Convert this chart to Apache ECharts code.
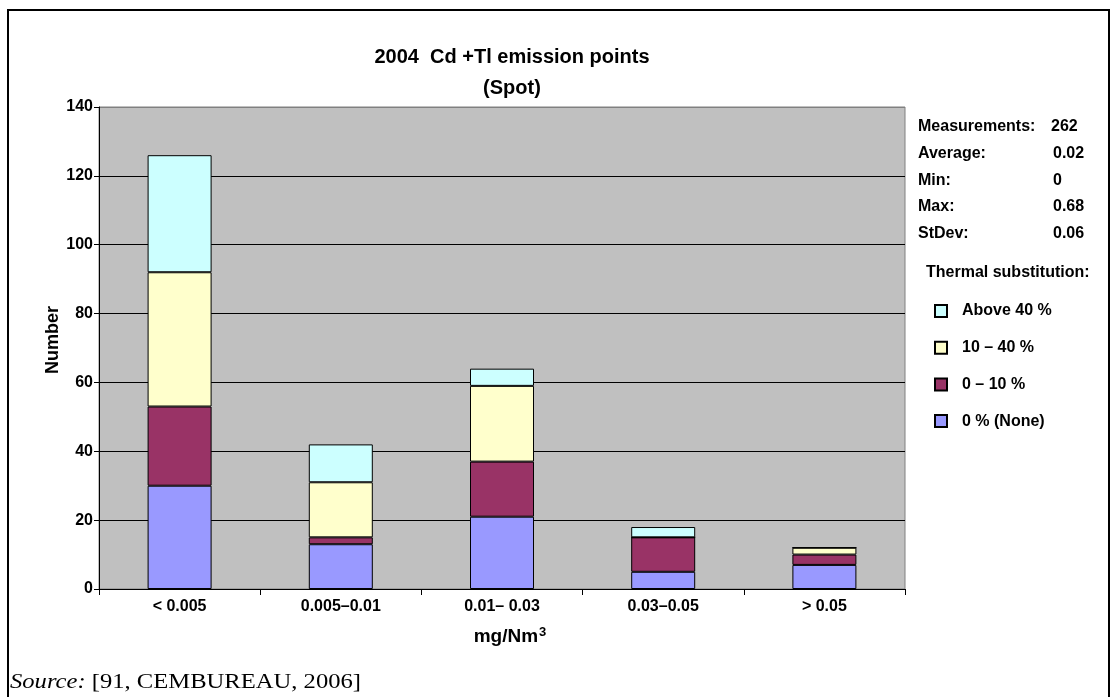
<!DOCTYPE html>
<html>
<head>
<meta charset="utf-8">
<script src="https://cdn.jsdelivr.net/npm/echarts@6/dist/echarts.min.js"></script>
<style>
html,body{margin:0;padding:0;background:#fff;}
#chart{width:1111px;height:697px;}
</style>
</head>
<body>
<div id="chart"></div>
<script>
const categories = ['< 0.005', '0.005\u20130.01', '0.01\u2013 0.03', '0.03\u20130.05', '> 0.05'];
const none0 = [30, 13, 21, 5, 7];
const s0to10 = [23, 2, 16, 10, 3];
const s10to40 = [39, 16, 22, 0, 2];
const above40 = [34, 11, 5, 3, 0];
const seriesNames = ['0 % (None)', '0 \u2013 10 %', '10 \u2013 40 %', 'Above 40 %'];
const yTicks = [0, 20, 40, 60, 80, 100, 120, 140];
const statLabels = ['Measurements:', 'Average:', 'Min:', 'Max:', 'StDev:'];
const statValues = ['262', '0.02', '0', '0.68', '0.06'];

const colors = ['#9999ff', '#993366', '#ffffcc', '#ccffff'];
const dataSets = [none0, s0to10, s10to40, above40];
const FONT = '"Liberation Sans", Arial, sans-serif';
const SERIF = '"Liberation Serif", "Times New Roman", serif';

const chart = echarts.init(document.getElementById('chart'), null, {renderer: 'canvas'});

const graphics = [
  {type: 'rect', shape: {x: 8, y: 10, width: 1101, height: 760}, style: {fill: 'none', stroke: '#000', lineWidth: 2}, silent: true},
  {type: 'text', x: 53, y: 340, rotation: Math.PI / 2, style: {text: 'Number', font: 'bold 18px ' + FONT, fill: '#000', align: 'center', verticalAlign: 'middle'}},
  {type: 'text', x: 510, y: 637, style: {text: 'mg/Nm{sup|3}', font: 'bold 19px ' + FONT, fill: '#000', align: 'center', verticalAlign: 'middle',
    rich: {sup: {font: 'bold 13px ' + FONT, fill: '#000', verticalAlign: 'top', padding: [0, 0, 10, 1]}}}},
  {type: 'text', x: 926, y: 273, style: {text: 'Thermal substitution:', font: 'bold 16px ' + FONT, fill: '#000', align: 'left', verticalAlign: 'middle'}},
  {type: 'text', x: 10, y: 683, scaleX: 1.23, style: {text: '{i|Source:} [91, CEMBUREAU, 2006]', font: '20px ' + SERIF, fill: '#000', align: 'left', verticalAlign: 'middle',
    rich: {i: {font: 'italic 20px ' + SERIF, fill: '#000'}}}}
];
statLabels.forEach((lab, i) => {
  graphics.push({type: 'text', x: 918, y: 127 + i * 26.6, style: {text: lab, font: 'bold 16px ' + FONT, fill: '#000', align: 'left', verticalAlign: 'middle'}});
  graphics.push({type: 'text', x: (i === 0 ? 1051 : 1053), y: 127 + i * 26.6, style: {text: statValues[i], font: 'bold 16px ' + FONT, fill: '#000', align: 'left', verticalAlign: 'middle'}});
});

const option = {
  animation: false,
  backgroundColor: '#fff',
  title: {
    text: '2004  Cd +Tl emission points\n(Spot)',
    left: 507, top: 37, textAlign: 'center',
    textStyle: {fontFamily: FONT, fontWeight: 'bold', fontSize: 20, color: '#000', lineHeight: 31}
  },
  legend: {
    orient: 'vertical', left: 929, top: 298,
    icon: 'rect',
    itemWidth: 12, itemHeight: 12, itemGap: 20.7,
    data: ['Above 40 %', '10 \u2013 40 %', '0 \u2013 10 %', '0 % (None)'],
    textStyle: {fontFamily: FONT, fontWeight: 'bold', fontSize: 16, color: '#000', padding: [0, 0, 0, 10]}
  },
  grid: {left: 99, right: 206, top: 107, bottom: 108, show: true, backgroundColor: '#c0c0c0', borderColor: '#808080', borderWidth: 1},
  xAxis: {
    type: 'category', data: categories,
    axisLine: {lineStyle: {color: '#000', width: 1}},
    axisTick: {show: true, length: 6, lineStyle: {color: '#000'}},
    axisLabel: {fontFamily: FONT, fontWeight: 'bold', fontSize: 16, color: '#000', margin: 10}
  },
  yAxis: {
    type: 'value', min: yTicks[0], max: yTicks[yTicks.length - 1], interval: 20,
    axisLine: {show: true, lineStyle: {color: '#000', width: 1}},
    axisTick: {show: true, length: 5, lineStyle: {color: '#000'}},
    axisLabel: {fontFamily: FONT, fontWeight: 'bold', fontSize: 16, color: '#000', margin: 6},
    splitLine: {lineStyle: {color: ['#000', '#000', '#000', '#000', '#000', '#000', '#000', '#808080'], width: 1}}
  },
  graphic: graphics,
  series: seriesNames.map((n, i) => ({
    name: n, type: 'bar', stack: 'total', barWidth: 64,
    data: dataSets[i],
    itemStyle: {color: colors[i], borderColor: '#000', borderWidth: 1}
  }))
};
chart.setOption(option);
</script>
</body>
</html>
